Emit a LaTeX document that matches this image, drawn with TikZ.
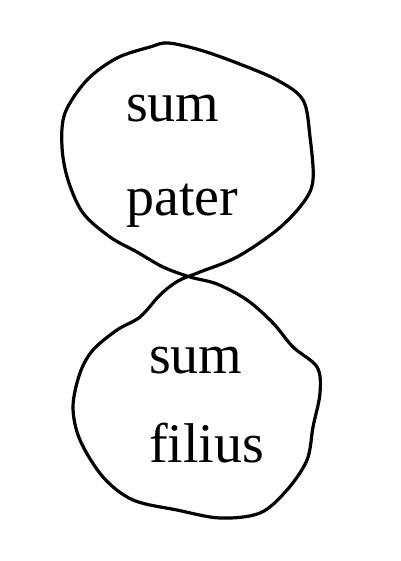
\documentclass[tikz,border=0pt]{standalone}
\usepackage{fontspec}
\setmainfont{Liberation Serif}
\begin{document}
\begin{tikzpicture}[x=1pt,y=-1pt,
  word/.style={anchor=base west,inner sep=0pt,font=\fontsize{56}{60}\selectfont},
  loopline/.style={line width=3.2pt,line join=round,line cap=round}]
\useasboundingbox[fill=white] (0,0) rectangle (400,561);
\draw[loopline] plot[smooth cycle,tension=0.55] coordinates {
 (168,43) (150,47) (117,58) (87,80) (65,113) (62,147) (68,180) (83,213)
 (110,237) (137,252) (163,267) (190,277) (217,284) (247,300) (273,323)
 (293,347) (317,367) (320,393) (313,427) (307,460) (287,490) (260,513)
 (220,518) (177,510) (133,500) (103,477) (80,440) (73,407) (80,373)
 (93,350) (117,330) (140,317) (160,295) (178,281) (200,272) (237,257)
 (277,230) (303,203) (313,180) (310,137) (303,100) (277,80) (237,63)
 (200,50)};
\node[word] (s1) at (126,122) {sum};
\node[word] (p1) at (126,215) {pater};
\node[word] (s2) at (149,373) {sum};
\node[word] (f2) at (149,462) {filius};
\end{tikzpicture}
\end{document}
